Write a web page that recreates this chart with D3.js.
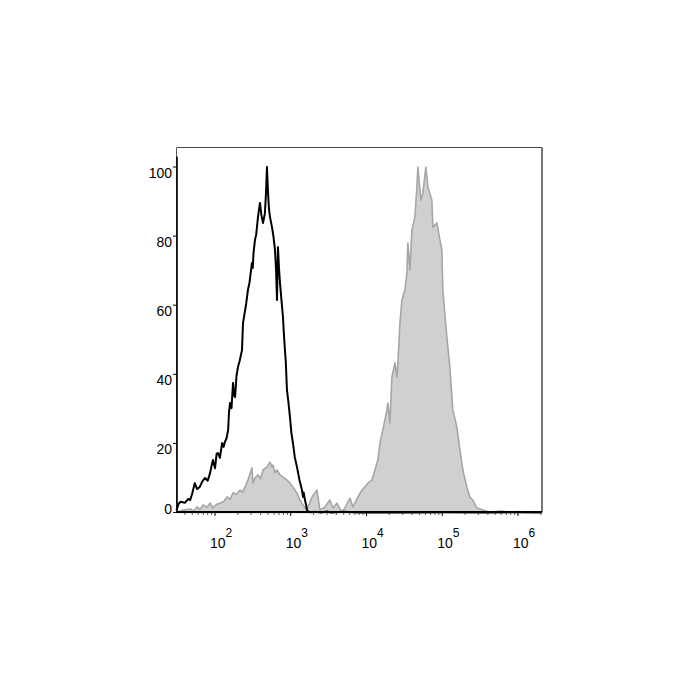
<!DOCTYPE html>
<html>
<head>
<meta charset="utf-8">
<script src="https://cdn.jsdelivr.net/npm/d3@7/dist/d3.min.js"></script>
<style>
  html, body { margin: 0; padding: 0; background: #fff; }
  svg { display: block; }
  text { font-family: "Liberation Sans", Arial, Helvetica, sans-serif; fill: #000; }
</style>
</head>
<body>
<svg id="chart" width="700" height="700"></svg>
<script>
// ---- Data (fluorescence intensity, % of max) ----
const yTicks = [0, 20, 40, 60, 80, 100];
const xDecades = [2, 3, 4, 5, 6];

// Isotype control (black outline)
const isotypeData = [
  [31, 0.7], [33, 2.5], [35, 3.1], [40, 2.8], [44, 3.9], [47, 3.6], [50, 5.5], [54, 8.5],
  [58, 6.8], [63, 7.4], [68, 9.0], [74, 10.0], [80, 9.2], [86, 11.4], [90, 13.5], [94, 15.2],
  [100, 12.8], [105, 17.0], [110, 17.2], [116, 15.8], [124, 20.1], [130, 19.0], [135, 20.4],
  [142, 21.5], [149, 23.9], [153, 29.0], [158, 31.7], [165, 30.2], [173, 37.5], [178, 34.0],
  [184, 33.4], [192, 39.5], [201, 42.1], [212, 44.0], [227, 47.0], [234, 54.8], [245, 57.5],
  [258, 60.5], [272, 64.4], [285, 66.5], [307, 72.2], [315, 70.8], [322, 75.0], [337, 78.9],
  [350, 80.5], [369, 85.5], [392, 89.6], [410, 86.0], [430, 83.8], [455, 86.5], [470, 92.0],
  [485, 100], [500, 93.0], [515, 88.0], [532, 85.5], [565, 82.6], [590, 80.0], [619, 76.0],
  [640, 70.0], [658, 61.5], [678, 76.8], [700, 70.5], [721, 66.4], [750, 62.0], [789, 56.6],
  [810, 52.0], [838, 47.0], [860, 43.5], [891, 35.4], [930, 32.0], [976, 27.6], [1020, 23.0],
  [1069, 20.1], [1130, 16.0], [1207, 13.2], [1300, 9.5], [1406, 6.5], [1450, 4.5], [1480, 5.8],
  [1540, 3.6], [1600, 2.0], [1636, 0.7], [1720, 0.2], [1792, 0.1], [2100, 0.2], [2500, 0.0],
  [3000, 0.3], [3400, 0.0], [5000, 0.2], [8000, 0.0], [15000, 0.1], [40000, 0.0],
  [100000, 0.1], [400000, 0.0], [1000000, 0.1], [2060000, 0.0]
];

// Stained sample (grey filled)
const stainedData = [
  [31.6, 0.1], [37.8, 0.7], [47, 1.0], [52, 0.4], [58, 1.6], [63, 0.9], [69.5, 2.2], [78, 1.5],
  [86, 2.7], [94, 1.3], [105, 2.4], [116, 2.7], [130, 3.2], [144, 4.5], [158, 3.8], [173, 5.7],
  [190, 5.2], [214, 6.5], [232, 5.9], [249, 7.4], [272, 9.4], [307, 12.9], [317, 8.5],
  [337, 10.0], [369, 10.9], [400, 9.8], [430, 12.3], [485, 13.2], [532, 14.6], [565, 13.2],
  [582, 13.7], [620, 11.5], [658, 12.3], [721, 10.9], [789, 10.3], [891, 9.4], [976, 8.5],
  [1069, 7.4], [1207, 5.6], [1321, 3.6], [1448, 2.2], [1636, 0.7], [1905, 4.5], [2218, 6.5],
  [2427, 0.7], [2825, 1.6], [3289, 3.6], [3604, 1.3], [4066, 2.7], [4733, 0.1], [5185, 1.3],
  [6036, 4.2], [6615, 1.6], [7701, 4.5], [8690, 6.5], [9524, 7.4], [10430, 8.5], [11780, 9.4],
  [12910, 12.3], [14130, 15.2], [15030, 20.1], [16450, 23.9], [18580, 29.7], [19150, 31.7],
  [20360, 25.9], [21640, 39.2], [23710, 43.3], [25190, 39.2], [25960, 43.3], [27600, 54.8],
  [29330, 61.5], [32140, 64.4], [34150, 69.3], [35190, 78.0], [37410, 70.2], [39750, 81.8],
  [43550, 85.5], [46290, 94.2], [47700, 100], [52240, 90.4], [55500, 92.5], [60800, 100],
  [64600, 94.2], [72900, 90.4], [75200, 82.6], [84900, 83.8], [93000, 78.9], [98800, 76.0],
  [101800, 64.4], [115000, 50.8], [126000, 42.1], [138000, 29.7], [156000, 24.7],
  [171000, 18.1], [187000, 12.3], [211000, 7.4], [231000, 4.5], [253000, 3.6], [286000, 1.3],
  [343000, 0.7], [425000, 0.1], [600000, 0.4], [800000, 0.1], [1000000, 0.3], [1500000, 0.1],
  [2060000, 0.0]
];

// ---- Layout ----
const svg = d3.select("#chart");
const plotL = 177, plotR = 542, plotT = 147.5, plotB = 512.5;

const x = d3.scaleLog()
  .domain([Math.pow(10, 1.498), Math.pow(10, 6.317)])
  .range([plotL, plotR]);
const y = d3.scaleLinear()
  .domain([0, 100])
  .range([plotB, 167]);

// frame (top + right + thin left)
svg.append("line").attr("x1", plotL).attr("x2", plotR).attr("y1", plotT).attr("y2", plotT)
  .attr("stroke", "#444").attr("stroke-width", 1);
svg.append("line").attr("x1", plotR).attr("x2", plotR).attr("y1", plotT).attr("y2", plotB)
  .attr("stroke", "#777").attr("stroke-width", 2);
svg.append("line").attr("x1", plotL - 0.5).attr("x2", plotL - 0.5).attr("y1", plotT).attr("y2", plotB)
  .attr("stroke", "#555").attr("stroke-width", 1);

// stained area
const area = d3.area()
  .x(d => x(d[0]))
  .y0(y(0))
  .y1(d => y(d[1]));
svg.append("path")
  .datum(stainedData)
  .attr("d", area)
  .attr("fill", "#d0d0d0")
  .attr("stroke", "#a6a6a6")
  .attr("stroke-width", 1.6)
  .attr("stroke-linejoin", "round");

// isotype line
const line = d3.line()
  .x(d => x(d[0]))
  .y(d => y(d[1]));
svg.append("path")
  .datum(isotypeData)
  .attr("d", line)
  .attr("fill", "none")
  .attr("stroke", "#000")
  .attr("stroke-width", 2)
  .attr("stroke-linejoin", "round");

// y axis
const yAxisG = svg.append("g");
yAxisG.append("line")
  .attr("x1", plotL).attr("x2", plotL)
  .attr("y1", y(103)).attr("y2", plotB)
  .attr("stroke", "#000").attr("stroke-width", 1.6);
yAxisG.selectAll(".ytick").data(yTicks).enter().append("line")
  .attr("x1", plotL - 4).attr("x2", plotL)
  .attr("y1", d => y(d)).attr("y2", d => y(d))
  .attr("stroke", "#000").attr("stroke-width", 1);
yAxisG.selectAll(".ylab").data(yTicks).enter().append("text")
  .attr("x", 172)
  .attr("y", d => Math.min(y(d) + 10.5, y(0) + 1.5))
  .attr("text-anchor", "end")
  .attr("font-size", 14)
  .text(d => d);

// x axis
const xAxisG = svg.append("g");
xAxisG.append("line")
  .attr("x1", plotL).attr("x2", plotR)
  .attr("y1", plotB - 0.5).attr("y2", plotB - 0.5)
  .attr("stroke", "#000").attr("stroke-width", 2);
const minorTicks = [];
for (let e = 1; e <= 6; e++) {
  for (let m = 2; m <= 9; m++) {
    const v = m * Math.pow(10, e);
    if (x(v) >= plotL && x(v) <= plotR) minorTicks.push(v);
  }
}
xAxisG.selectAll(".xminor").data(minorTicks).enter().append("line")
  .attr("x1", d => x(d)).attr("x2", d => x(d))
  .attr("y1", plotB).attr("y2", plotB + 2.5)
  .attr("stroke", "#333").attr("stroke-width", 0.8);
xAxisG.selectAll(".xmajor").data(xDecades).enter().append("line")
  .attr("x1", d => x(Math.pow(10, d))).attr("x2", d => x(Math.pow(10, d)))
  .attr("y1", plotB).attr("y2", plotB + 3.5)
  .attr("stroke", "#000").attr("stroke-width", 1);
const xl = xAxisG.selectAll(".xlab").data(xDecades).enter().append("text")
  .attr("x", d => x(Math.pow(10, d)) - 5)
  .attr("y", 548.3)
  .attr("font-size", 14)
  .text("10");
xl.append("tspan")
  .attr("dy", -11.6)
  .attr("font-size", 12)
  .text(d => d);
</script>
</body>
</html>
